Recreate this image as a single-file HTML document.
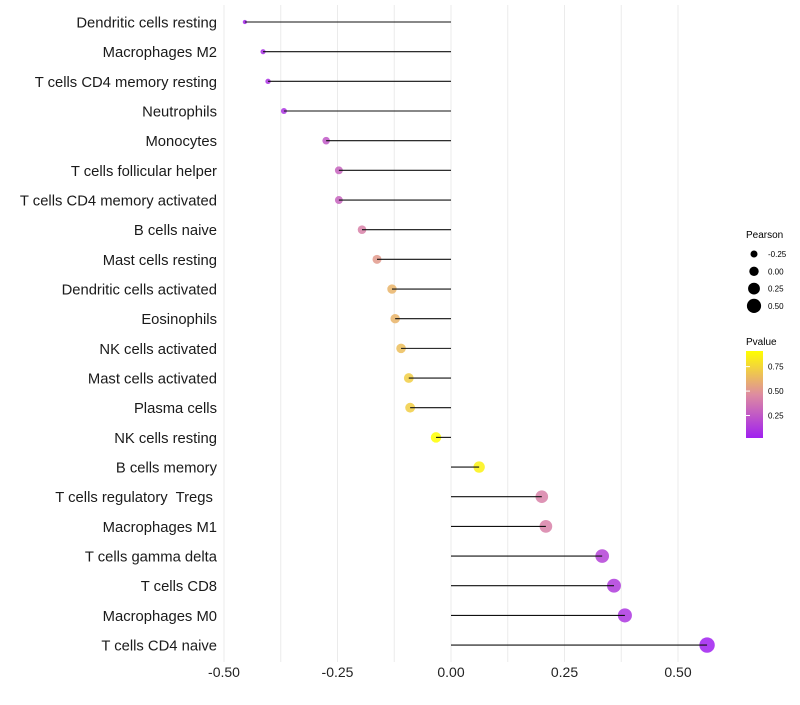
<!DOCTYPE html>
<html><head><meta charset="utf-8"><style>
body{margin:0;background:#fff;font-family:"Liberation Sans",sans-serif}
text{white-space:pre}
</style></head><body>
<svg id="chart" width="800" height="700" xmlns="http://www.w3.org/2000/svg" font-family="Liberation Sans, sans-serif">
<defs><linearGradient id="pg" x1="0" y1="1" x2="0" y2="0">
<stop offset="0" stop-color="#A020F0"/><stop offset="0.5" stop-color="#DE8CA0"/><stop offset="1" stop-color="#FFFF00"/></linearGradient></defs>
<g id="grid"></g>
<g id="marks"></g>
<g id="ylabels"></g>
<g id="xlabels"></g>
<g>
<text x="746" y="238" font-size="10">Pearson</text>
<g id="sizeLeg"></g>
</g>
<g>
<text x="746" y="345" font-size="10">Pvalue</text>
<rect x="746" y="351" width="17" height="87" fill="url(#pg)"/>
<g id="colLeg"></g>
</g>
</svg>
<script>
const categories=["Dendritic cells resting","Macrophages M2","T cells CD4 memory resting","Neutrophils","Monocytes","T cells follicular helper","T cells CD4 memory activated","B cells naive","Mast cells resting","Dendritic cells activated","Eosinophils","NK cells activated","Mast cells activated","Plasma cells","NK cells resting","B cells memory","T cells regulatory  Tregs ","Macrophages M1","T cells gamma delta","T cells CD8","Macrophages M0","T cells CD4 naive"];
const pearson=[-0.454,-0.414,-0.403,-0.368,-0.275,-0.247,-0.247,-0.196,-0.163,-0.130,-0.123,-0.110,-0.093,-0.090,-0.033,0.062,0.200,0.209,0.333,0.359,0.383,0.564];
const pvalues=[0.05,0.08,0.09,0.10,0.25,0.30,0.30,0.42,0.52,0.62,0.62,0.66,0.72,0.72,0.91,0.86,0.42,0.42,0.16,0.13,0.11,0.02];
const xTicks=[-0.5,-0.25,0,0.25,0.5];
const xTickLabels=["-0.50","-0.25","0.00","0.25","0.50"];
const sizeLegVals=[-0.25,0,0.25,0.5];
const colLegVals=[0.25,0.5,0.75];
const NS="http://www.w3.org/2000/svg";
const X=v=>451+v*454;
const Y=i=>22+i*29.67;
const R=v=>Math.sqrt(Math.max(1,29+54*v));
function lerp(a,b,t){return a.map((x,k)=>Math.round(x+(b[k]-x)*t));}
function col(p){const t=Math.max(0,Math.min(1,(p-0.02)/0.89));const A=[160,32,240],M=[222,140,160],B=[255,255,0];
const c=t<0.5?lerp(A,M,t*2):lerp(M,B,(t-0.5)*2);return `rgb(${c})`;}
function mk(tag,at,parent){const e=document.createElementNS(NS,tag);for(const k in at)e.setAttribute(k,at[k]);parent.appendChild(e);return e;}
const grid=document.getElementById('grid'),marks=document.getElementById('marks'),yl=document.getElementById('ylabels'),xl=document.getElementById('xlabels');
for(let v=-0.5;v<=0.5001;v+=0.125){const g=mk('line',{x1:X(v),x2:X(v),y1:5,y2:662,stroke:'#ebebeb','stroke-width':1},grid);

}
xTicks.forEach((v,i)=>{const t=mk('text',{x:X(v),y:677,'font-size':14,'text-anchor':'middle',fill:'#222'},xl);t.textContent=xTickLabels[i];

});
categories.forEach((c,i)=>{
const y=Y(i);
const t=mk('text',{x:217,y:y+5.5,'font-size':14.8,'text-anchor':'end',fill:'#1a1a1a'},yl);t.textContent=c;


const p=mk('circle',{cx:X(pearson[i]),cy:y,r:R(pearson[i]),fill:col(pvalues[i]),'fill-opacity':0.85},marks);


const l=mk('line',{x1:X(0),x2:X(pearson[i]),y1:y,y2:y,stroke:'#111','stroke-width':1.1},marks);


});
const sl=document.getElementById('sizeLeg');
sizeLegVals.forEach((v,i)=>{const y=254+i*17.3;
const c=mk('circle',{cx:754,cy:y,r:3.5+1.2*(i),fill:'#000'},sl);


const t=mk('text',{x:768,y:y+3,'font-size':8},sl);t.textContent=v.toFixed(2);

});
const cl=document.getElementById('colLeg');
colLegVals.forEach(v=>{const y=438-(v-0.02)*97.75;
const t=mk('text',{x:768,y:y+3,'font-size':8},cl);t.textContent=v.toFixed(2);


const tk=mk('line',{x1:746,x2:750,y1:y,y2:y,stroke:'#fff'},cl);

});
</script>
</body></html>
